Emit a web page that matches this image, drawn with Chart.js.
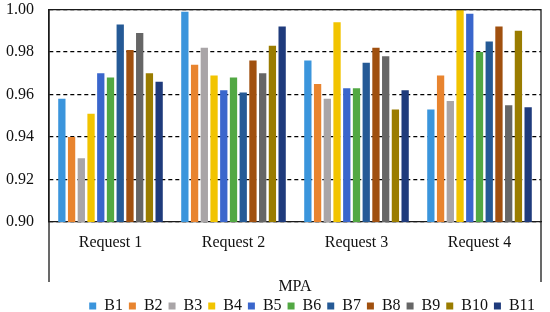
<!DOCTYPE html>
<html>
<head>
<meta charset="utf-8">
<script src="https://cdn.jsdelivr.net/npm/chart.js@4.4.1/dist/chart.umd.min.js"></script>
<style>
  html, body { margin: 0; padding: 0; background: #fff; }
</style>
</head>
<body>
<canvas id="mpa-chart" width="550" height="312"></canvas>
<script>
'use strict';

var requests = ['Request 1', 'Request 2', 'Request 3', 'Request 4'];
var seriesNames = ['B1', 'B2', 'B3', 'B4', 'B5', 'B6', 'B7', 'B8', 'B9', 'B10', 'B11'];

// MPA per request, one array per series
var B1 = [0.958, 0.999, 0.976, 0.953];
var B2 = [0.940, 0.974, 0.965, 0.969];
var B3 = [0.930, 0.982, 0.958, 0.957];
var B4 = [0.951, 0.969, 0.994, 1.000];
var B5 = [0.970, 0.962, 0.963, 0.998];
var B6 = [0.968, 0.968, 0.963, 0.980];
var B7 = [0.993, 0.961, 0.975, 0.985];
var B8 = [0.981, 0.976, 0.982, 0.992];
var B9 = [0.989, 0.970, 0.978, 0.955];
var B10 = [0.970, 0.983, 0.953, 0.990];
var B11 = [0.966, 0.992, 0.962, 0.954];

var seriesValues = [B1, B2, B3, B4, B5, B6, B7, B8, B9, B10, B11];
var seriesColors = ['#3b95dc', '#e8842f', '#a9a5a7', '#f2c400', '#3a66cc', '#52a843',
                    '#255a96', '#a0500f', '#666666', '#9a7c00', '#1f3b7c'];

var yTicks = [0.90, 0.92, 0.94, 0.96, 0.98, 1.00];

var textColor = '#111';
var fontFamily = "'Liberation Serif', 'Times New Roman', serif";

// outer frame: top edge plus sides running down past the axis title
var framePlugin = {
  id: 'frame',
  afterDraw: function(chart) {
    var a = chart.chartArea;
    var ctx = chart.ctx;
    ctx.save();
    ctx.strokeStyle = '#1a1a1a';
    ctx.lineWidth = 1.3;
    ctx.beginPath();
    ctx.moveTo(a.left, 282);
    ctx.lineTo(a.left, a.top);
    ctx.lineTo(a.right, a.top);
    ctx.lineTo(a.right, 282);
    ctx.stroke();
    ctx.restore();
  }
};

// pull the legend down to the bottom edge
var legendFitPlugin = {
  id: 'legendFit',
  beforeInit: function(chart) {
    var fit = chart.legend.fit;
    chart.legend.fit = function() {
      fit.bind(chart.legend)();
      this.height -= 12;
    };
  }
};

new Chart(document.getElementById('mpa-chart'), {
  type: 'bar',
  data: {
    labels: requests,
    datasets: seriesNames.map(function(name, i) {
      return {
        label: name,
        data: seriesValues[i],
        backgroundColor: seriesColors[i],
        borderWidth: 0,
        categoryPercentage: 0.87,
        barPercentage: 0.75,
      };
    }),
  },
  options: {
    responsive: false,
    animation: false,
    devicePixelRatio: 1,
    layout: { padding: { left: 6, right: 9, top: 9, bottom: 0 } },
    plugins: {
      tooltip: { enabled: false },
      legend: {
        position: 'bottom',
        align: 'end',
        labels: {
          boxWidth: 7,
          boxHeight: 7,
          padding: 6,
          color: textColor,
          font: { family: fontFamily, size: 16 },
        },
      },
    },
    scales: {
      x: {
        grid: { display: true, drawOnChartArea: false, drawTicks: true, tickLength: 11, tickColor: 'rgba(0,0,0,0)' },
        border: { display: true, color: '#1a1a1a', width: 1.3 },
        ticks: { color: textColor, padding: 0, font: { family: fontFamily, size: 16 } },
        title: {
          display: true,
          text: 'MPA',
          color: textColor,
          font: { family: fontFamily, size: 16 },
          padding: { top: 24.6, bottom: -4 },
        },
      },
      y: {
        min: yTicks[0],
        max: yTicks[yTicks.length - 1],
        afterBuildTicks: function(axis) {
          axis.ticks = yTicks.map(function(v) { return { value: v }; });
        },
        grid: { color: '#000', lineWidth: 1.2, drawTicks: true, tickLength: 15, tickColor: 'rgba(0,0,0,0)' },
        border: { display: true, color: '#1a1a1a', width: 1.3, dash: [4, 3] },
        ticks: {
          color: textColor,
          padding: 0,
          font: { family: fontFamily, size: 16 },
          callback: function(v) { return Number(v).toFixed(2); },
        },
      },
    },
  },
  plugins: [framePlugin, legendFitPlugin],
});
</script>
</body>
</html>
